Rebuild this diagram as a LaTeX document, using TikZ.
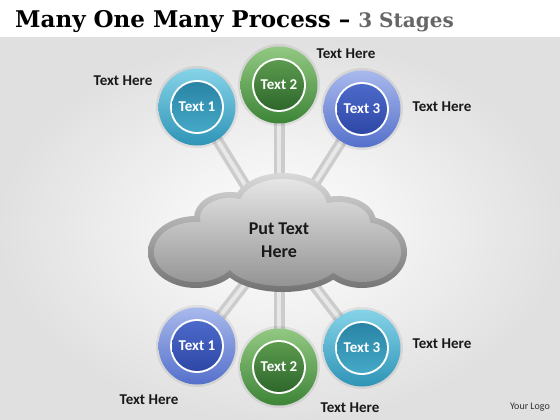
\documentclass[tikz,border=0pt]{standalone}
\usepackage{fontspec}
\setmainfont{Carlito}
\newfontfamily\titlefont{DejaVu Serif}
\definecolor{tealA}{HTML}{86D3E8}
\definecolor{tealB}{HTML}{2E94B6}
\definecolor{tealC}{HTML}{2A84A6}
\definecolor{tealD}{HTML}{45A9C6}
\definecolor{grnA}{HTML}{93C982}
\definecolor{grnB}{HTML}{3D8437}
\definecolor{grnC}{HTML}{5C9A4E}
\definecolor{grnD}{HTML}{2E672B}
\definecolor{bluA}{HTML}{A8B9EC}
\definecolor{bluB}{HTML}{5570CB}
\definecolor{bluC}{HTML}{4C6ACA}
\definecolor{bluD}{HTML}{2E47A6}
\begin{document}
\begin{tikzpicture}[x=1pt,y=-1pt,
  bar/.style={line width=11pt,draw=black!20,line cap=butt},
  barhi/.style={line width=4pt,draw=black!9,line cap=butt},
  ringteal/.style={top color=tealA,bottom color=tealB},
  innerteal/.style={top color=tealC,bottom color=tealD},
  ringgreen/.style={top color=grnA,bottom color=grnB},
  innergreen/.style={top color=grnC,bottom color=grnD},
  ringblue/.style={top color=bluA,bottom color=bluB},
  innerblue/.style={top color=bluC,bottom color=bluD},
  intext/.style={text=white,font=\bfseries\fontsize{15}{17}\selectfont},
  lbl/.style={font=\bfseries\fontsize{15}{17}\selectfont,text=black!90},
]
\useasboundingbox (0,0) rectangle (560,420);
% background
\fill[white] (0,0) rectangle (560,38);
\shade[inner color=white,outer color=black!12] (0,38) rectangle (560,420);

% positions
\coordinate (t1) at (197,107);
\coordinate (t2) at (279,85);
\coordinate (t3) at (362,109);
\coordinate (b1) at (197,346);
\coordinate (b2) at (279,367);
\coordinate (b3) at (362,348);
\coordinate (cc) at (279,240);

% bars
\foreach \p in {t1,t2,t3,b1,b2,b3}{\draw[bar] (\p) -- (cc);}
\foreach \p in {t1,t2,t3,b1,b2,b3}{\draw[barhi] (\p) -- (cc);}

% cloud rim
\path[top color=black!15,bottom color=black!55]
  (196,252) ellipse[x radius=48,y radius=36]
  (230,218) ellipse[x radius=36,y radius=26]
  (283,206) ellipse[x radius=50,y radius=33]
  (338,222) ellipse[x radius=38,y radius=26]
  (362,252) ellipse[x radius=45,y radius=36]
  (283,262) ellipse[x radius=62,y radius=30]
  (280,240) ellipse[x radius=90,y radius=36];
% cloud inner
\path[top color=black!10,bottom color=black!42]
  (196,252) ellipse[x radius=42,y radius=30]
  (230,218) ellipse[x radius=30,y radius=20]
  (283,206) ellipse[x radius=44,y radius=27]
  (338,222) ellipse[x radius=32,y radius=20]
  (362,252) ellipse[x radius=39,y radius=30]
  (283,262) ellipse[x radius=56,y radius=24]
  (280,240) ellipse[x radius=84,y radius=30];
\node[font=\bfseries\fontsize{18}{23}\selectfont,align=center,text=black!90] (cloud) at (cc) {Put Text\\Here};

% bubbles
\newcommand\mybubble[4]{%
  \fill[black,opacity=0.07] (#1) circle[radius=41];
  \node[circle,minimum size=77pt,inner sep=0pt,#2] (#1-o) at (#1) {};
  \node[circle,minimum size=54pt,inner sep=0pt,fill=white] (#1-w) at (#1) {};
  \node[circle,minimum size=50pt,inner sep=0pt,#3,intext] (#1-i) at (#1) {#4};
}
\mybubble{t1}{ringteal}{innerteal}{Text 1}
\mybubble{t2}{ringgreen}{innergreen}{Text 2}
\mybubble{t3}{ringblue}{innerblue}{Text 3}
\mybubble{b1}{ringblue}{innerblue}{Text 1}
\mybubble{b2}{ringgreen}{innergreen}{Text 2}
\mybubble{b3}{ringteal}{innerteal}{Text 3}

% labels
\node[lbl] (l1) at (123,81) {Text Here};
\node[lbl] (l2) at (346,54) {Text Here};
\node[lbl] (l3) at (442,107) {Text Here};
\node[lbl] (l4) at (442,344) {Text Here};
\node[lbl] (l5) at (149,400) {Text Here};
\node[lbl] (l6) at (350,408) {Text Here};
\node[font=\fontsize{10}{12}\selectfont,text=black!80] (logo) at (530,407) {Your Logo};

% title
\node[anchor=base west,inner sep=0pt] (title) at (15,28)
  {\titlefont\bfseries\fontsize{23}{26}\selectfont Many One Many Process – {\color{black!60}\fontsize{20}{26}\selectfont 3 Stages}};
\end{tikzpicture}
\end{document}
